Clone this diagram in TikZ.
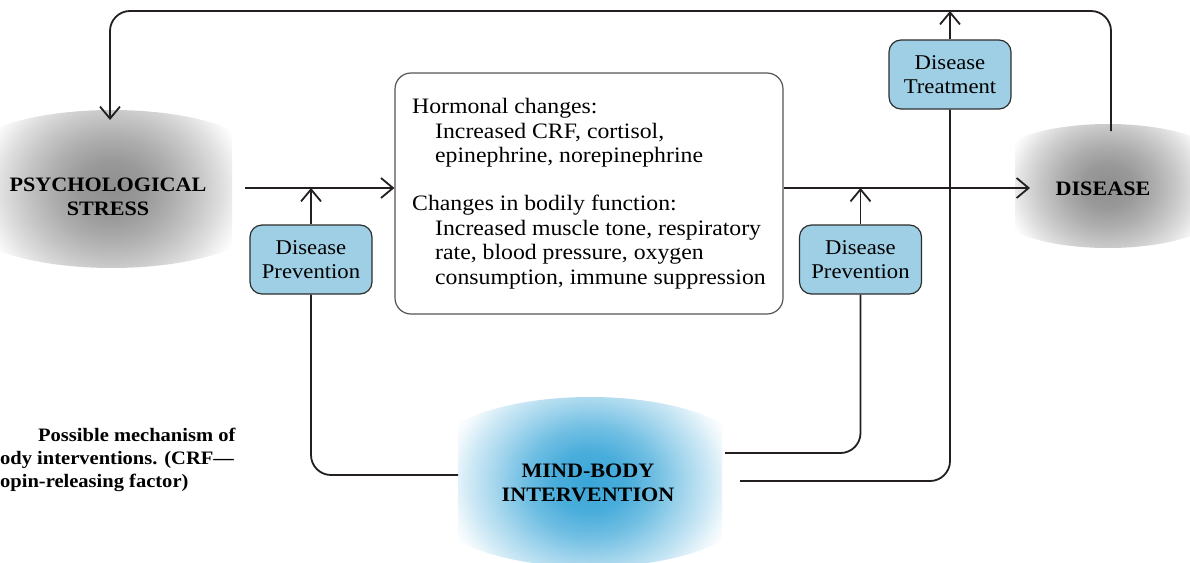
\documentclass[tikz,border=0pt]{standalone}
\usepackage{fontspec}
\setmainfont{Liberation Serif}[FakeStretch=1.08]
\usetikzlibrary{arrows.meta,calc}

\definecolor{ink}{RGB}{35,31,32}
\definecolor{boxblue}{RGB}{158,207,229}
\definecolor{boxedge}{RGB}{45,45,45}
\definecolor{panel}{RGB}{85,85,85}
\definecolor{blueA}{RGB}{58,166,216}

% radial fades; the fill path's bounding box edge sits at 25bp
\pgfdeclareradialshading{grayblob}{\pgfpoint{0bp}{0bp}}{color(0bp)=(black!44); color(6bp)=(black!40); color(11bp)=(black!32); color(16bp)=(black!22); color(20bp)=(black!13); color(23bp)=(black!5); color(25bp)=(white); color(50bp)=(white)}
\pgfdeclareradialshading{blueblob}{\pgfpoint{0bp}{0bp}}{color(0bp)=(blueA); color(6bp)=(blueA!92!white); color(11bp)=(blueA!72!white); color(16bp)=(blueA!45!white); color(20bp)=(blueA!25!white); color(23bp)=(blueA!8!white); color(25bp)=(white); color(50bp)=(white)}

% soft barrel-shaped blob: centre x, centre y, width, height, arc dip, shading
\newcommand\blobshape[6]{%
  \begin{scope}
    \clip ({#1-#3/2},{#2-#4/2+#5})
      .. controls ({#1-#3/4},{#2-#4/2-#5/3}) and ({#1+#3/4},{#2-#4/2-#5/3}) .. ({#1+#3/2},{#2-#4/2+#5})
      -- ({#1+#3/2},{#2+#4/2-#5})
      .. controls ({#1+#3/4},{#2+#4/2+#5/3}) and ({#1-#3/4},{#2+#4/2+#5/3}) .. ({#1-#3/2},{#2+#4/2-#5})
      -- cycle;
    \shade[shading=#6] (#1,#2) ellipse ({#3*0.57} and {#4*0.74});
  \end{scope}}

\tikzset{
  conn/.style={draw=ink, line width=1.8pt, rounded corners=20pt},
  arr/.style={-{Straight Barb[length=12pt,width=20pt]}},
  bluebox/.style={draw=boxedge, fill=boxblue, line width=1.2pt, rounded corners=12pt,
    minimum width=122pt, minimum height=69pt, align=center, inner sep=0pt,
    font=\fontsize{21}{24}\selectfont},
  mainbox/.style={draw=panel, line width=1.2pt, rounded corners=16pt,
    minimum width=388pt, minimum height=241pt, align=left, inner sep=0pt,
    font=\fontsize{22}{24.5}\selectfont},
  blobtext/.style={font=\bfseries\fontsize{20.5}{24}\selectfont, align=center, inner sep=0pt},
  captext/.style={font=\bfseries\fontsize{19}{23}\selectfont, anchor=base west, inner sep=0pt}
}

\begin{document}
\begin{tikzpicture}[x=1pt,y=-1pt]
\useasboundingbox (0,0) rectangle (1190,562);
\clip (0,0) rectangle (1190,562);

% shaded blobs
\blobshape{112}{189}{240}{158}{20}{grayblob}
\blobshape{1108}{186}{186}{124}{16}{grayblob}
\blobshape{590}{482}{264}{170}{26}{blueblob}

% labels of the blobs
\node[blobtext] (ps) at (108,197) {PSYCHOLOGICAL\\STRESS};
\node[blobtext] (dis) at (1103,189) {DISEASE};
\node[blobtext] (mb) at (588,483) {MIND-BODY\\INTERVENTION};

% central panel
\node[mainbox] (panel) at (589,193.5) {%
Hormonal changes:\\
\hspace*{23pt}Increased CRF, cortisol,\\
\hspace*{23pt}epinephrine, norepinephrine\\[23.5pt]
Changes in bodily function:\\
\hspace*{23pt}Increased muscle tone, respiratory\\
\hspace*{23pt}rate, blood pressure, oxygen\\
\hspace*{23pt}consumption, immune suppression};

% intervention boxes
\node[bluebox] (dpl) at (311,259.5) {Disease\\Prevention};
\node[bluebox] (dpr) at (860.5,259.5) {Disease\\Prevention};
\node[bluebox] (dt) at (950,74.5) {Disease\\Treatment};

% connector end points on the blobs
\coordinate (psout) at (245,188);
\coordinate (disin) at (1030,188);
\coordinate (disup) at (1111,131);
\coordinate (toprow) at (110,11);
\coordinate (psdown) at (110,120);
\coordinate (mbL) at (458,475);
\coordinate (mbR1) at (725,453);
\coordinate (mbR2) at (740,481);

% main flow
\draw[conn,arr] (psout) -- (panel.west |- psout);
\draw[conn,arr] (panel.east |- psout) -- (disin);

% feedback loop from disease back to stress
\draw[conn,arr] (disup) |- (toprow) -- (psdown);

% intervention paths
\draw[conn] (mbL) -| (dpl.south);
\draw[conn,arr] (dpl.north) -- (dpl.north |- psout);
\draw[conn] (mbR1) -| (dpr.south);
\draw[conn,arr] (dpr.north) -- (dpr.north |- psout);
\draw[conn] (mbR2) -| (dt.south);
\draw[conn,arr] (dt.north) -- (dt.north |- toprow);

% caption
\node[captext] (cap1) at (38,441) {Possible mechanism of};
\node[captext] (cap2) at (0,464) {ody interventions. (CRF---};
\node[captext] (cap3) at (0,487) {opin-releasing factor)};
\end{tikzpicture}
\end{document}
